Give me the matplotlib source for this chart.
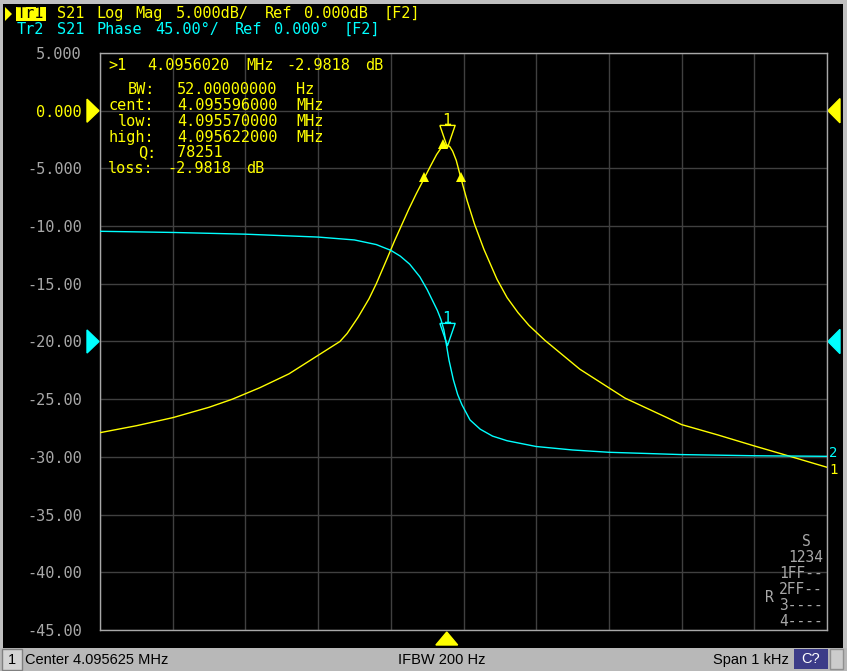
import re
import matplotlib
matplotlib.use("Agg")
import matplotlib.pyplot as plt
from matplotlib.patches import Rectangle, Polygon
from matplotlib.transforms import Affine2D, blended_transform_factory, offset_copy

W, H = 847, 671

# sweep: centre 4.095625 MHz, span 1 kHz -> offsets in Hz from the start
span = 1000.0

# Tr1 S21 log mag (dB)
mag_off = [0, 50, 100, 150, 182, 220, 260, 300, 330, 340, 355, 370, 380, 395, 405, 415, 425,
           435, 445, 455, 463, 469, 473, 477, 481, 485, 490, 497, 505, 515, 528, 546, 560,
           575, 590, 612, 660, 722, 780, 800, 850, 900, 949, 1000]
mag_db = [-27.9, -27.3, -26.6, -25.7, -25.0, -24.0, -22.8, -21.2, -20.0, -19.3, -17.9, -16.3,
          -15.0, -12.8, -11.3, -9.9, -8.5, -7.2, -5.98, -4.75, -3.8, -3.25, -3.04, -2.98,
          -3.1, -3.5, -4.3, -5.98, -7.8, -9.8, -12.0, -14.6, -16.2, -17.5, -18.6, -19.9,
          -22.4, -24.9, -26.6, -27.2, -28.1, -29.05, -29.95, -30.9]

# Tr2 S21 phase, 45 deg/div, ref 0 deg on the -20 line (values in screen divisions)
ph_off = [0, 50, 100, 200, 300, 350, 380, 400, 413, 426, 440, 450, 457, 464, 469, 473, 476,
          480, 486, 492, 498, 509, 523, 540, 560, 600, 650, 700, 800, 900, 1000]
ph_grid = [-10.45, -10.5, -10.55, -10.7, -10.95, -11.2, -11.6, -12.1, -12.6, -13.3, -14.4,
           -15.5, -16.4, -17.3, -18.1, -19.0, -20.1, -21.6, -23.3, -24.6, -25.5, -26.8,
           -27.6, -28.2, -28.6, -29.1, -29.4, -29.6, -29.8, -29.9, -29.95]

yticks = [5, 0, -5, -10, -15, -20, -25, -30, -35, -40, -45]
ytick_labels = ["5.000", "0.000", "-5.000", "-10.00", "-15.00", "-20.00", "-25.00",
                "-30.00", "-35.00", "-40.00", "-45.00"]

# marker 1 and bandwidth search
m1_off, m1_db, m1_ph = 477, -2.9818, -20.1
low_off, high_off, bw_db = 445, 497, -5.98

YEL = "#ffff00"
CYA = "#00ffff"
GRAY = "#a8a8a8"
GRID = "#404040"
MONO = "DejaVu Sans Mono"
FS = 11
PITCH = 9.9  # character cell of the analyzer font, px

fig = plt.figure(figsize=(W / 100, H / 100), dpi=100, facecolor="black")
px = Affine2D().scale(1.0 / W, -1.0 / H).translate(0, 1) + fig.transFigure

def box(x0, y0, x1, y1, fc, ec="none", z=0):
    fig.patches.append(Rectangle((x0, y1), x1 - x0, y0 - y1, transform=px,
                                 facecolor=fc, edgecolor=ec, lw=1, zorder=z))

def ftext(x, y, s, **kw):
    fig.text(x / W, 1 - y / H, s, **kw)

def mono(x0, y, s, color, size=FS, z=2):
    # lay words on the fixed character grid of the instrument screen
    for m in re.finditer(r"\S+", s):
        ftext(x0 + m.start() * PITCH, y, m.group(), color=color, fontfamily=MONO,
              fontsize=size, va="center", zorder=z)

# window frame and status bar
box(0, 0, W, 4, "#c0c0c0")
box(0, 0, 3, H, "#c0c0c0")
box(843, 0, W, H, "#c0c0c0")
box(0, 648, W, H, "#b8b8b8")
box(2, 649, 22, 670, "#d4d4d4", ec="#808080", z=1)
box(794, 649, 828, 669, "#3c3c88", z=1)
box(830, 649, 843, 669, "#cccccc", ec="#909090", z=1)

ax = fig.add_axes([100 / W, (H - 630) / H, 727 / W, 577 / H])
ax.set_facecolor("black")
ax.set_xlim(0, span)
ax.set_ylim(-45, 5)
ax.set_xticks(range(0, 1001, 100))
ax.set_yticks(yticks)
ax.set_xticklabels([])
ax.set_yticklabels(ytick_labels, fontfamily=MONO, fontsize=11, color=GRAY)
ax.get_yticklabels()[1].set_color(YEL)
ax.tick_params(length=0, pad=13)
ax.grid(True, color=GRID, lw=1)
for s in ax.spines.values():
    s.set_color(GRAY)
    s.set_linewidth(1)

ax.plot(mag_off, mag_db, color=YEL, lw=1.0, zorder=3)
ax.plot(ph_off, ph_grid, color=CYA, lw=1.0, zorder=3)

# marker symbols on the traces
for xo, yv in [(low_off, bw_db), (high_off, bw_db), (m1_off - 5, m1_db - 0.15)]:
    ax.plot(xo, yv, marker="^", ms=7, color=YEL, mew=0, zorder=4,
            transform=offset_copy(ax.transData, fig, y=3, units="dots"))
tri = [(-5.5, 8), (5.5, 8), (0, -8), (-5.5, 8)]
for yv, col in [(m1_db, YEL), (m1_ph, CYA)]:
    t = offset_copy(ax.transData, fig, y=9, units="dots")
    ax.plot(m1_off, yv, marker=tri, ms=16, mfc="none", mec=col, mew=1, transform=t, zorder=4)
    ax.text(m1_off, yv, "1", color=col, fontfamily=MONO, fontsize=11, ha="center", va="bottom",
            transform=offset_copy(ax.transData, fig, y=17, units="dots"), zorder=4)

# reference / stimulus arrows outside the grid
bt = blended_transform_factory(ax.transAxes, ax.transData)
for yv, col in [(0, YEL), (-20, CYA)]:
    ax.add_patch(Polygon([(-13 / 727, yv + 1.0), (-13 / 727, yv - 1.0), (-1 / 727, yv)],
                         closed=True, color=col, transform=bt, clip_on=False))
    ax.add_patch(Polygon([(1 + 13 / 727, yv + 1.05), (1 + 13 / 727, yv - 1.05), (1 + 1 / 727, yv)],
                         closed=True, color=col, transform=bt, clip_on=False))
bb = blended_transform_factory(ax.transData, ax.transAxes)
ax.add_patch(Polygon([(m1_off - 15, -15 / 577), (m1_off + 15, -15 / 577), (m1_off, -2 / 577)],
                     closed=True, color=YEL, transform=bb, clip_on=False))
ax.text(1 + 2 / 727, ph_grid[-1] + 0.3, "2", color=CYA, fontfamily=MONO, fontsize=10,
        transform=bt, va="center", ha="left")
ax.text(1 + 2 / 727, mag_db[-1] - 0.25, "1", color=YEL, fontfamily=MONO, fontsize=10,
        transform=bt, va="center", ha="left")

# header lines
box(16, 7, 46, 21, YEL, z=1)
fig.patches.append(Polygon([(5, 7), (5, 21), (12, 14)], closed=True, transform=px,
                           facecolor=YEL, edgecolor="none", zorder=2))
mono(17, 13.5, "Tr1", "black", z=3)
mono(17, 13.5, "    S21 Log Mag 5.000dB/ Ref 0.000dB [F2]", YEL)
mono(17, 29.5, "Tr2 S21 Phase 45.00\u00b0/ Ref 0.000\u00b0 [F2]", CYA)

# marker readout
mono(108, 65, ">1  4.0956020 MHz -2.9818 dB", YEL)
readout = ["  BW:  52.00000000 Hz", "cent:  4.095596000 MHz", " low:  4.095570000 MHz",
           "high:  4.095622000 MHz", "   Q:  78251", "loss: -2.9818 dB"]
for i, line in enumerate(readout):
    mono(108, 90 + i * 15.7, line, YEL)

# port status table
ftext(806, 541, "S", color=GRAY, fontfamily=MONO, fontsize=10.5, va="center", ha="center")
for s, y in [("1234", 557), ("1FF--", 574), ("2FF--", 590), ("3----", 605), ("4----", 621)]:
    ftext(823, y, s, color=GRAY, fontfamily=MONO, fontsize=10.5, va="center", ha="right")
ftext(765, 598, "R", color=GRAY, fontfamily=MONO, fontsize=10.5, va="center")

# status bar
SB = ["Liberation Sans Narrow", "Liberation Sans"]
ftext(12, 660, "1", color="black", fontfamily=SB, fontsize=10.5, va="center", ha="center", zorder=3)
ftext(25, 660, "Center 4.095625 MHz", color="black", fontfamily=SB, fontsize=10.5, va="center")
ftext(442, 660, "IFBW 200 Hz", color="black", fontfamily=SB, fontsize=10.5, va="center", ha="center")
ftext(789, 660, "Span 1 kHz", color="black", fontfamily=SB, fontsize=10.5, va="center", ha="right")
ftext(811, 659, "C?", color="white", fontfamily=SB, fontsize=10.5, va="center", ha="center", zorder=3)

fig.savefig("out.png", dpi=100, facecolor="black")
